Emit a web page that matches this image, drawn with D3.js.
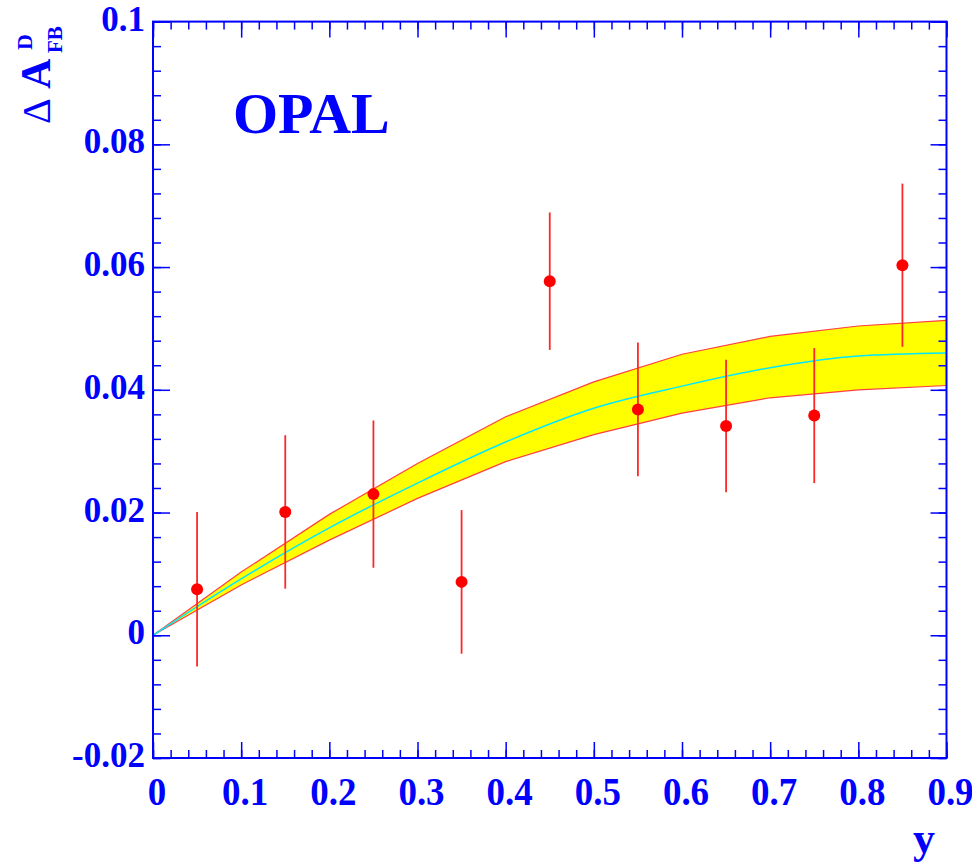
<!DOCTYPE html>
<html>
<head>
<meta charset="utf-8">
<script src="https://cdn.jsdelivr.net/npm/d3@7"></script>
<style>
  body { margin: 0; background: #ffffff; }
  text { font-family: "Liberation Serif", "DejaVu Serif", serif; font-weight: bold; fill: #0000ff; }
</style>
</head>
<body>
<div id="chart"></div>
<script>
// measured points (bin centres in y)
var ptX = [0.05, 0.15, 0.25, 0.35, 0.45, 0.55, 0.65, 0.75, 0.85];
var ptY = [0.0075, 0.0201, 0.0230, 0.0087, 0.0577, 0.0368, 0.0341, 0.0358, 0.0603];
var ptErr = [0.0126, 0.0125, 0.0120, 0.0117, 0.0112, 0.0109, 0.0108, 0.0110, 0.0133];

// prediction band
var bandX = [0, 0.1, 0.2, 0.3, 0.4, 0.5, 0.6, 0.7, 0.8, 0.9];
var bandMid = [0, 0.0092, 0.0175, 0.0248, 0.0315, 0.0370, 0.0406, 0.0436, 0.0455, 0.0460];
var bandHi = [0, 0.0103, 0.0197, 0.0280, 0.0356, 0.0413, 0.0458, 0.0487, 0.0504, 0.0513];
var bandLo = [0, 0.0082, 0.0155, 0.0223, 0.0283, 0.0327, 0.0362, 0.0387, 0.0400, 0.0407];

var xMajor = [0, 0.1, 0.2, 0.3, 0.4, 0.5, 0.6, 0.7, 0.8, 0.9];
var xLabels = ['0', '0.1', '0.2', '0.3', '0.4', '0.5', '0.6', '0.7', '0.8', '0.9'];
var yMajor = [-0.02, 0, 0.02, 0.04, 0.06, 0.08, 0.1];
var yLabels = ['-0.02', '0', '0.02', '0.04', '0.06', '0.08', '0.1'];

function drawChart() {
  var W = 972, H = 867;
  var pLeft = 153, pRight = 946.5, pTop = 21.6, pBottom = 758;

  var svg = d3.select('#chart').append('svg')
      .attr('width', W)
      .attr('height', H);

  var x = d3.scaleLinear().domain([0, 0.9]).range([pLeft, pRight]);
  var y = d3.scaleLinear().domain([-0.02, 0.1]).range([pBottom, pTop]);

  // band
  var band = bandX.map(function(d, i) { return {x: d, lo: bandLo[i], hi: bandHi[i], mid: bandMid[i]}; });

  svg.append('path')
      .datum(band)
      .attr('d', d3.area()
        .x(function(d) { return x(d.x); })
        .y0(function(d) { return y(d.lo); })
        .y1(function(d) { return y(d.hi); }))
      .attr('fill', '#ffff00')
      .attr('stroke', 'none');

  ['lo', 'hi'].forEach(function(k) {
    svg.append('path')
        .datum(band)
        .attr('d', d3.line()
          .x(function(d) { return x(d.x); })
          .y(function(d) { return y(d[k]); }))
        .attr('fill', 'none')
        .attr('stroke', '#ff4040')
        .attr('stroke-width', 1.2);
  });

  svg.append('path')
      .datum(band)
      .attr('d', d3.line()
        .curve(d3.curveMonotoneX)
        .x(function(d) { return x(d.x); })
        .y(function(d) { return y(d.mid); }))
      .attr('fill', 'none')
      .attr('stroke', '#00e8ff')
      .attr('stroke-width', 1.5);

  // points with errors
  var pts = ptX.map(function(d, i) { return {x: d, y: ptY[i], e: ptErr[i]}; });

  svg.selectAll('.err')
      .data(pts)
    .enter().append('line')
      .attr('class', 'err')
      .attr('x1', function(d) { return x(d.x); })
      .attr('x2', function(d) { return x(d.x); })
      .attr('y1', function(d) { return y(d.y - d.e); })
      .attr('y2', function(d) { return y(d.y + d.e); })
      .attr('stroke', '#ff2828')
      .attr('stroke-width', 1.8);

  svg.selectAll('.pt')
      .data(pts)
    .enter().append('circle')
      .attr('class', 'pt')
      .attr('cx', function(d) { return x(d.x); })
      .attr('cy', function(d) { return y(d.y); })
      .attr('r', 6)
      .attr('fill', '#ff0000');

  // ticks, inward on all four sides
  var xMinor = d3.range(46).map(function(i) { return i * 0.02; });
  var yMinor = d3.range(31).map(function(i) { return -0.02 + i * 0.004; });

  function tickStyle(g) {
    g.select('.domain').remove();
    g.selectAll('.tick line').attr('stroke', '#0000ff').attr('stroke-width', 1.5);
    g.selectAll('.tick text').remove();
  }

  svg.append('g').attr('transform', 'translate(0,' + pBottom + ')')
      .call(d3.axisBottom(x).tickValues(xMinor).tickSize(-8)).call(tickStyle);
  svg.append('g').attr('transform', 'translate(0,' + pBottom + ')')
      .call(d3.axisBottom(x).tickValues(xMajor).tickSize(-16)).call(tickStyle);
  svg.append('g').attr('transform', 'translate(0,' + pTop + ')')
      .call(d3.axisTop(x).tickValues(xMinor).tickSize(-8)).call(tickStyle);
  svg.append('g').attr('transform', 'translate(0,' + pTop + ')')
      .call(d3.axisTop(x).tickValues(xMajor).tickSize(-16)).call(tickStyle);
  svg.append('g').attr('transform', 'translate(' + pLeft + ',0)')
      .call(d3.axisLeft(y).tickValues(yMinor).tickSize(-8)).call(tickStyle);
  svg.append('g').attr('transform', 'translate(' + pLeft + ',0)')
      .call(d3.axisLeft(y).tickValues(yMajor).tickSize(-17)).call(tickStyle);
  svg.append('g').attr('transform', 'translate(' + pRight + ',0)')
      .call(d3.axisRight(y).tickValues(yMinor).tickSize(-8)).call(tickStyle);
  svg.append('g').attr('transform', 'translate(' + pRight + ',0)')
      .call(d3.axisRight(y).tickValues(yMajor).tickSize(-16)).call(tickStyle);

  // frame
  svg.append('rect')
      .attr('x', pLeft)
      .attr('y', pTop)
      .attr('width', pRight - pLeft)
      .attr('height', pBottom - pTop)
      .attr('fill', 'none')
      .attr('stroke', '#0000ff')
      .attr('stroke-width', 2);

  // tick labels
  svg.selectAll('.ylab')
      .data(yMajor)
    .enter().append('text')
      .attr('class', 'ylab')
      .attr('x', pLeft - 8)
      .attr('y', function(d) { return y(d) + 9; })
      .style('text-anchor', 'end')
      .style('font-size', '35px')
      .text(function(d, i) { return yLabels[i]; });

  // x labels are a little taller than wide in the original
  svg.selectAll('.xlab')
      .data(xMajor)
    .enter().append('text')
      .attr('class', 'xlab')
      .attr('transform', function(d) { return 'translate(' + (x(d) + 4) + ',805) scale(1,1.08)'; })
      .style('text-anchor', 'middle')
      .style('font-size', '37px')
      .text(function(d, i) { return xLabels[i]; });

  // axis titles
  svg.append('text')
      .attr('x', 935)
      .attr('y', 853)
      .style('text-anchor', 'end')
      .style('font-size', '44px')
      .text('y');

  var yt = svg.append('g').attr('transform', 'translate(50,124) rotate(-90)');
  yt.append('text')
      .attr('x', 0).attr('y', 0)
      .style('font-size', '40px')
      .style('font-weight', 'normal')
      .text('\u0394');
  yt.append('text')
      .attr('x', 35).attr('y', 0)
      .style('font-size', '42px')
      .text('A');
  yt.append('text')
      .attr('x', 71).attr('y', 12)
      .style('font-size', '21px')
      .text('FB');
  yt.append('text')
      .attr('x', 74).attr('y', -18)
      .style('font-size', '22px')
      .text('D');

  // experiment label
  svg.append('text')
      .attr('x', 233)
      .attr('y', 133)
      .style('font-size', '58px')
      .text('OPAL');
}

drawChart();
</script>
</body>
</html>
